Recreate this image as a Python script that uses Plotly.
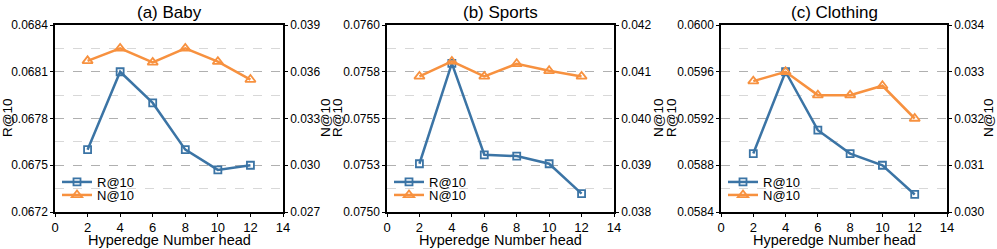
import plotly.graph_objects as go

heads = [2, 4, 6, 8, 10, 12]

baby_r = [0.06760, 0.06810, 0.06790, 0.06760, 0.06747, 0.06750]
baby_n = [0.0367, 0.0375, 0.0366, 0.0375, 0.03665, 0.0355]
sports_r = [0.075258, 0.075795, 0.075306, 0.075299, 0.075258, 0.075098]
sports_n = [0.0409, 0.04122, 0.0409, 0.04117, 0.04102, 0.0409]
cloth_r = [0.0589, 0.0596, 0.0591, 0.0589, 0.0588, 0.05855]
cloth_n = [0.0328, 0.0330, 0.0325, 0.0325, 0.0327, 0.0320]

titles = ["(a) Baby", "(b) Sports", "(c) Clothing"]
x_title = "Hyperedge Number head"
r_name = "R@10"
n_name = "N@10"
r_series = [baby_r, sports_r, cloth_r]
n_series = [baby_n, sports_n, cloth_n]

left_ticks = [
    [0.0672, 0.0675, 0.0678, 0.0681, 0.0684],
    [0.0750, 0.07525, 0.0755, 0.07575, 0.0760],
    [0.0584, 0.0588, 0.0592, 0.0596, 0.0600],
]
left_labels = [
    ["0.0672", "0.0675", "0.0678", "0.0681", "0.0684"],
    ["0.0750", "0.0753", "0.0755", "0.0758", "0.0760"],
    ["0.0584", "0.0588", "0.0592", "0.0596", "0.0600"],
]
right_ticks = [
    [0.027, 0.030, 0.033, 0.036, 0.039],
    [0.038, 0.039, 0.040, 0.041, 0.042],
    [0.030, 0.031, 0.032, 0.033, 0.034],
]
right_labels = [
    ["0.027", "0.030", "0.033", "0.036", "0.039"],
    ["0.038", "0.039", "0.040", "0.041", "0.042"],
    ["0.030", "0.031", "0.032", "0.033", "0.034"],
]
x_ticks = [0, 2, 4, 6, 8, 10, 12, 14]

BLUE = "#3B74A5"
ORANGE = "#F7913F"
FONT = "Liberation Sans, Arial, sans-serif"
W, H = 997, 249

domains_px = [(55, 283), (387, 614), (721, 947)]
left_title_x = [7, 337, 671]
right_title_x = [325, 658, 988]
TOP, BOT = 25, 212
y_dom = [1 - BOT / H, 1 - TOP / H]

fig = go.Figure()
layout = dict(
    width=W, height=H, margin=dict(l=0, r=0, t=0, b=0, autoexpand=False),
    paper_bgcolor="white", plot_bgcolor="white",
    font=dict(family=FONT, size=12, color="black"),
    showlegend=True,
    annotations=[],
)


def ann(text, xpx, ypx, size, angle=0):
    return dict(text=text, x=xpx / W, y=1 - ypx / H, xref="paper", yref="paper",
                xanchor="center", yanchor="middle", showarrow=False,
                textangle=angle, font=dict(size=size))


for i in range(3):
    xa = "x" if i == 0 else f"x{i+1}"
    ya_l = f"y{2*i+1}" if i > 0 else "y"
    ya_r = f"y{2*i+2}"
    leg_r = "legend" if i == 0 else f"legend{2*i+1}"
    leg_n = f"legend{2*i+2}"
    fig.add_trace(go.Scatter(
        x=heads, y=r_series[i], name=r_name, mode="lines+markers",
        line=dict(color=BLUE, width=2.5),
        marker=dict(symbol="square-open", size=7, color=BLUE, line=dict(width=1.8)),
        xaxis=xa, yaxis=ya_l, legend=leg_r, showlegend=True,
    ))
    fig.add_trace(go.Scatter(
        x=heads, y=n_series[i], name=n_name, mode="lines+markers",
        line=dict(color=ORANGE, width=2.5),
        marker=dict(symbol="triangle-up-open", size=9, color=ORANGE, line=dict(width=1.8)),
        xaxis=xa, yaxis=ya_r, legend=leg_n, showlegend=True,
    ))
    x0, x1 = domains_px[i]
    dom = [x0 / W, x1 / W]
    xkey = "xaxis" if i == 0 else f"xaxis{i+1}"
    ylkey = "yaxis" if i == 0 else f"yaxis{2*i+1}"
    yrkey = f"yaxis{2*i+2}"
    lt = left_ticks[i]
    minor_vals = [(lt[k] + lt[k + 1]) / 2 for k in range(len(lt) - 1)]
    layout[xkey] = dict(
        domain=dom, anchor=ya_l, range=[0, 14], tickmode="array",
        tickvals=x_ticks, ticktext=[str(v) for v in x_ticks],
        showline=True, linecolor="black", linewidth=1.5, mirror=True,
        ticks="outside", ticklen=3, tickwidth=1, tickcolor="black",
        showgrid=False, zeroline=False, automargin=False,
        tickfont=dict(size=13),
    )
    layout[ylkey] = dict(
        domain=y_dom, anchor=xa, range=[lt[0], lt[-1]], tickmode="array",
        tickvals=lt, ticktext=left_labels[i],
        showline=True, linecolor="black", linewidth=1.5,
        ticks="outside", ticklen=3, tickcolor="black",
        showgrid=True, gridcolor="#b0b0b0", griddash="dash", gridwidth=1,
        minor=dict(tickmode="array", tickvals=minor_vals, showgrid=True,
                   gridcolor="#d8d8d8", griddash="dash", gridwidth=1, ticks=""),
        zeroline=False, automargin=False,
        tickfont=dict(size=12),
    )
    rt = right_ticks[i]
    layout[yrkey] = dict(
        domain=y_dom, anchor=xa, overlaying=ya_l, side="right",
        range=[rt[0], rt[-1]], tickmode="array", tickvals=rt, ticktext=right_labels[i],
        showline=True, linecolor="black", linewidth=1.5,
        ticks="outside", ticklen=3, tickcolor="black",
        showgrid=False, zeroline=False, automargin=False,
        tickfont=dict(size=12),
    )
    for leg, ypx in ((leg_r, 182), (leg_n, 195)):
        layout[leg] = dict(
            x=(x0 + 2) / W, y=1 - ypx / H, xanchor="left", yanchor="middle",
            bgcolor="rgba(0,0,0,0)", font=dict(size=13),
            tracegroupgap=0, itemwidth=30, borderwidth=0, visible=True,
        )
    layout["annotations"].append(ann(titles[i], (x0 + x1) / 2, 12, 17))
    layout["annotations"].append(ann(x_title, (x0 + x1) / 2, 240, 14.5))
    layout["annotations"].append(ann(r_name, left_title_x[i], 118, 13.5, -90))
    layout["annotations"].append(ann(n_name, right_title_x[i], 118, 13.5, -90))

fig.update_layout(**layout)
fig.write_html("out.html", config={"displayModeBar": False},
               post_script="document.body.style.margin='0';")
